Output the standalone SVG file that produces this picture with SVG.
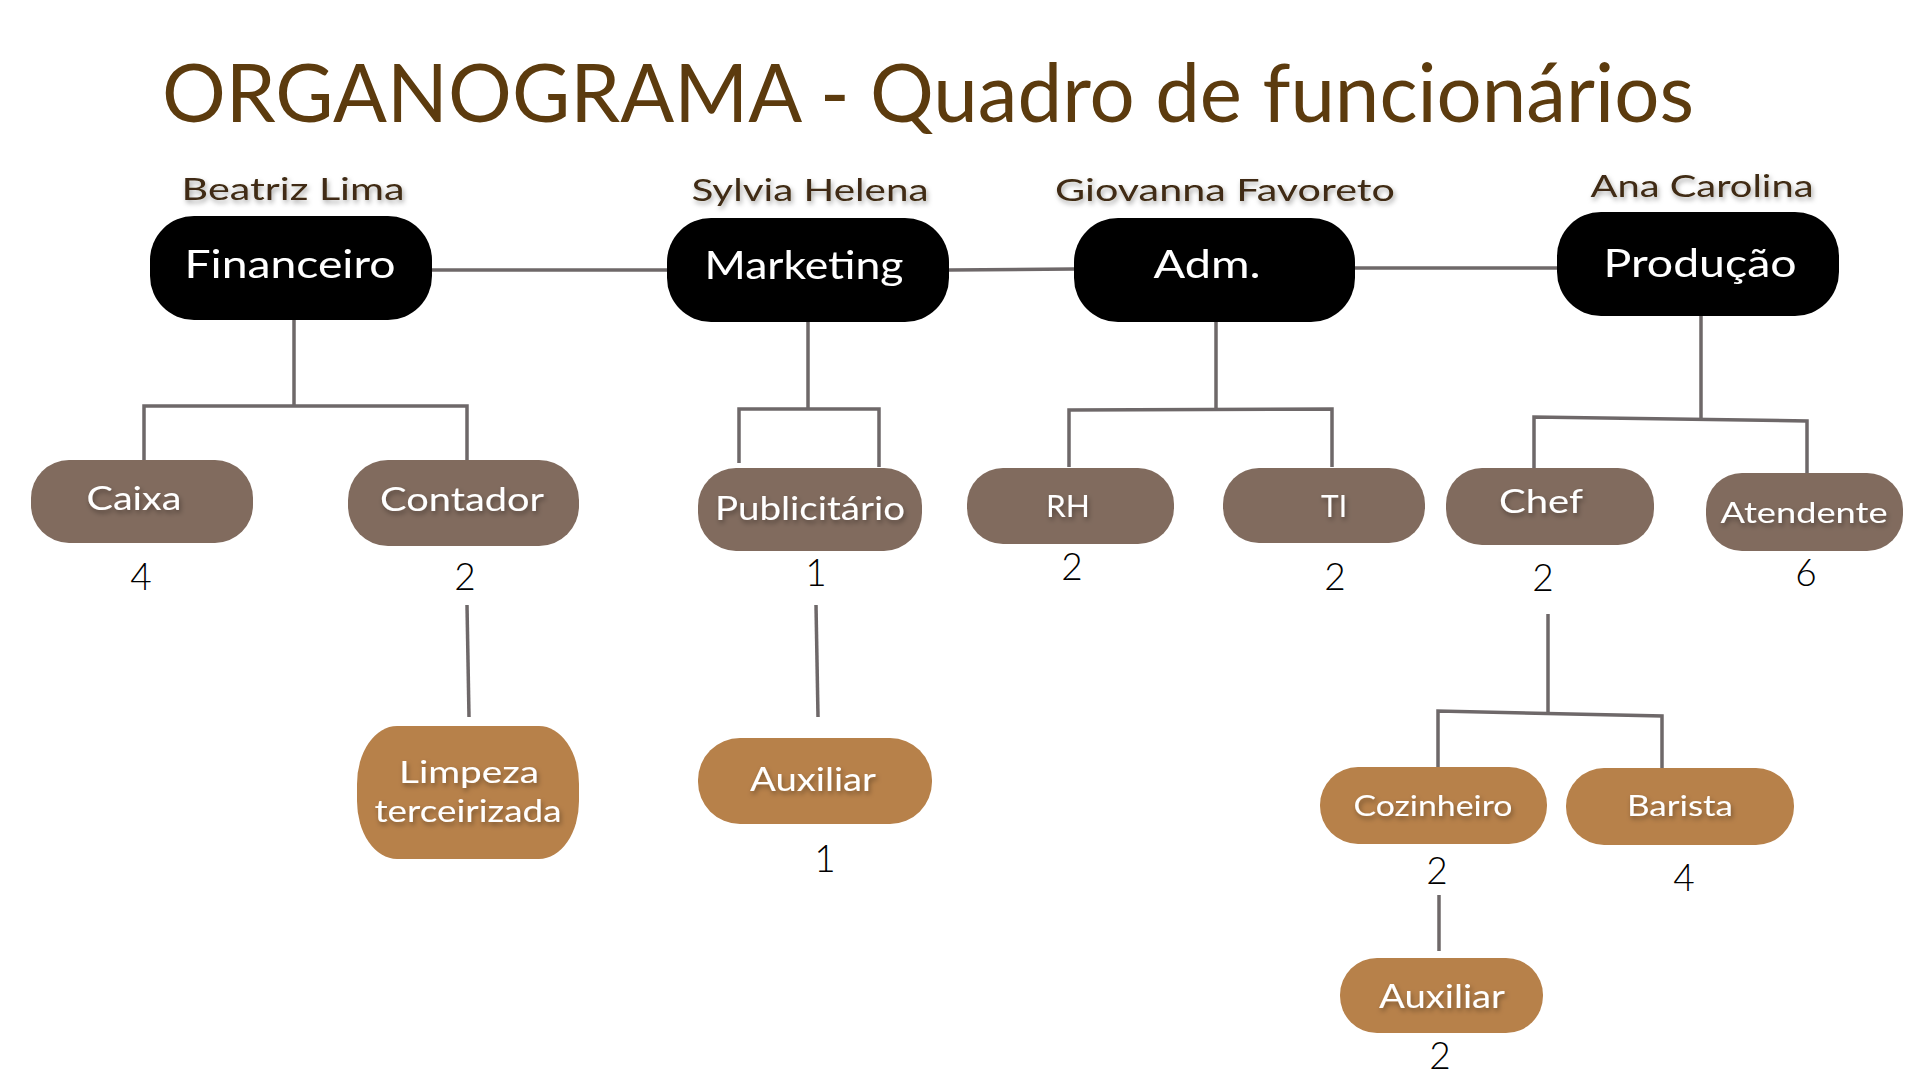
<svg xmlns="http://www.w3.org/2000/svg" width="1920" height="1080" viewBox="0 0 1920 1080">
<defs>
<filter id="sh" x="-20%" y="-40%" width="140%" height="180%">
<feDropShadow dx="1.5" dy="3" stdDeviation="2.5" flood-color="#000" flood-opacity="0.35"/>
</filter>
<style>
.top{fill:#000}
.mid{fill:#816B5E}
.low{fill:#B7814A}
.lbl{font-family:Lato,"Noto Sans",sans-serif;fill:#fff;text-anchor:middle;filter:url(#sh)}
.name{font-family:Lato,"Noto Sans",sans-serif;font-size:31px;fill:#3f2c12;text-anchor:middle;filter:url(#sh)}
.num{font-family:Lato,"Noto Sans",sans-serif;font-weight:300;font-size:37px;fill:#000;text-anchor:middle}
.ln{stroke:#6E6869;stroke-width:3.5;fill:none;stroke-linecap:butt}
</style>
</defs>
<rect width="1920" height="1080" fill="#fff"/>
<text id="title" x="162" y="122" font-family="Lato,'Noto Sans',sans-serif" font-size="82" fill="#5C3B0E" textLength="1532" lengthAdjust="spacingAndGlyphs">ORGANOGRAMA - Quadro de funcionários</text>

<g id="connectors">
<line class="ln" x1="432" y1="270" x2="667" y2="270"/>
<line class="ln" x1="949" y1="270" x2="1074" y2="269"/>
<line class="ln" x1="1355" y1="268" x2="1557" y2="268"/>
<polyline class="ln" points="294,320 294,406"/>
<polyline class="ln" points="144,465 144,406 467,406 467,463"/>
<polyline class="ln" points="808,322 808,409"/>
<polyline class="ln" points="739,463 739,409 879,409 879,467"/>
<polyline class="ln" points="1216,322 1216,409"/>
<polyline class="ln" points="1069,467 1069,410 1332,409 1332,467"/>
<polyline class="ln" points="1701,316 1701,419"/>
<polyline class="ln" points="1534,468 1534,417 1807,421 1807,473"/>
<line class="ln" x1="467" y1="605" x2="469" y2="717"/>
<line class="ln" x1="816" y1="605" x2="818" y2="717"/>
<polyline class="ln" points="1548,614 1548,712"/>
<polyline class="ln" points="1438,767 1438,711 1662,716 1662,769"/>
<line class="ln" x1="1439" y1="895" x2="1439" y2="951"/>
</g>

<g id="financeiro">
<text class="name" x="293" y="200" textLength="223" lengthAdjust="spacingAndGlyphs">Beatriz Lima</text>
<rect class="top" x="150" y="216" width="282" height="104" rx="44" ry="44"/>
<text class="lbl" x="290" y="278" font-size="38" textLength="211" lengthAdjust="spacingAndGlyphs">Financeiro</text>
</g>
<g id="marketing">
<text class="name" x="810" y="201" textLength="237" lengthAdjust="spacingAndGlyphs">Sylvia Helena</text>
<rect class="top" x="667" y="218" width="282" height="104" rx="44" ry="44"/>
<text class="lbl" x="804" y="279" font-size="38" textLength="199" lengthAdjust="spacingAndGlyphs">Marketing</text>
</g>
<g id="adm">
<text class="name" x="1225" y="201" textLength="340" lengthAdjust="spacingAndGlyphs">Giovanna Favoreto</text>
<rect class="top" x="1074" y="218" width="281" height="104" rx="44" ry="44"/>
<text class="lbl" x="1207" y="278" font-size="38" textLength="107" lengthAdjust="spacingAndGlyphs">Adm.</text>
</g>
<g id="producao">
<text class="name" x="1702" y="197" textLength="223" lengthAdjust="spacingAndGlyphs">Ana Carolina</text>
<rect class="top" x="1557" y="212" width="282" height="104" rx="44" ry="44"/>
<text class="lbl" x="1700" y="277" font-size="38" textLength="193" lengthAdjust="spacingAndGlyphs">Produção</text>
</g>

<g id="caixa">
<rect class="mid" x="31" y="460" width="222" height="83" rx="38" ry="38"/>
<text class="lbl" x="134" y="510" font-size="32" textLength="95" lengthAdjust="spacingAndGlyphs">Caixa</text>
<text class="num" x="141" y="590">4</text>
</g>
<g id="contador">
<rect class="mid" x="348" y="460" width="231" height="86" rx="40" ry="40"/>
<text class="lbl" x="462" y="511" font-size="32" textLength="164" lengthAdjust="spacingAndGlyphs">Contador</text>
<text class="num" x="465" y="590">2</text>
</g>
<g id="publicitario">
<rect class="mid" x="698" y="468" width="224" height="83" rx="38" ry="38"/>
<text class="lbl" x="810" y="520" font-size="32" textLength="190" lengthAdjust="spacingAndGlyphs">Publicitário</text>
<text class="num" x="816" y="586">1</text>
</g>
<g id="rh">
<rect class="mid" x="967" y="468" width="207" height="76" rx="36" ry="36"/>
<text class="lbl" x="1068" y="517" font-size="30" textLength="44" lengthAdjust="spacingAndGlyphs">RH</text>
<text class="num" x="1072" y="580">2</text>
</g>
<g id="ti">
<rect class="mid" x="1223" y="468" width="202" height="75" rx="36" ry="36"/>
<text class="lbl" x="1334" y="517" font-size="30" textLength="26" lengthAdjust="spacingAndGlyphs">TI</text>
<text class="num" x="1335" y="590">2</text>
</g>
<g id="chef">
<rect class="mid" x="1446" y="468" width="208" height="77" rx="36" ry="36"/>
<text class="lbl" x="1541" y="513" font-size="33" textLength="84" lengthAdjust="spacingAndGlyphs">Chef</text>
<text class="num" x="1543" y="591">2</text>
</g>
<g id="atendente">
<rect class="mid" x="1706" y="473" width="197" height="78" rx="36" ry="36"/>
<text class="lbl" x="1804" y="523" font-size="28" textLength="167" lengthAdjust="spacingAndGlyphs">Atendente</text>
<text class="num" x="1806" y="586">6</text>
</g>

<g id="limpeza">
<rect class="low" x="357" y="726" width="222" height="133" rx="40" ry="58"/>
<text class="lbl" x="469" y="783" font-size="30" textLength="140" lengthAdjust="spacingAndGlyphs">Limpeza</text>
<text class="lbl" x="468" y="822" font-size="30" textLength="187" lengthAdjust="spacingAndGlyphs">terceirizada</text>
</g>
<g id="auxiliar-mkt">
<rect class="low" x="698" y="738" width="234" height="86" rx="42" ry="42"/>
<text class="lbl" x="813" y="791" font-size="33" textLength="126" lengthAdjust="spacingAndGlyphs">Auxiliar</text>
<text class="num" x="825" y="872">1</text>
</g>
<g id="cozinheiro">
<rect class="low" x="1320" y="767" width="227" height="77" rx="38" ry="38"/>
<text class="lbl" x="1433" y="816" font-size="28" textLength="159" lengthAdjust="spacingAndGlyphs">Cozinheiro</text>
<text class="num" x="1437" y="884">2</text>
</g>
<g id="barista">
<rect class="low" x="1566" y="768" width="228" height="77" rx="38" ry="38"/>
<text class="lbl" x="1680" y="816" font-size="28" textLength="106" lengthAdjust="spacingAndGlyphs">Barista</text>
<text class="num" x="1684" y="891">4</text>
</g>
<g id="auxiliar-prod">
<rect class="low" x="1340" y="958" width="203" height="75" rx="37" ry="37"/>
<text class="lbl" x="1442" y="1008" font-size="33" textLength="126" lengthAdjust="spacingAndGlyphs">Auxiliar</text>
<text class="num" x="1440" y="1069">2</text>
</g>
</svg>
